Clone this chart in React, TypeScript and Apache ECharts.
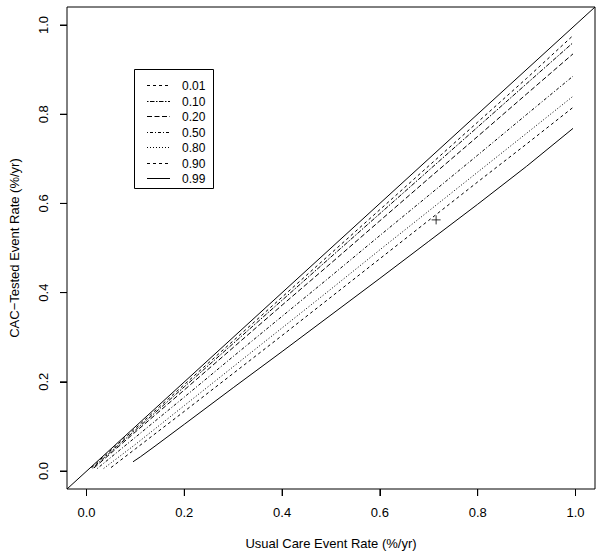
import React, { useEffect, useRef } from "react";
import * as echarts from "echarts";

// Quantile labels (legend)
const quantiles = ["0.01", "0.10", "0.20", "0.50", "0.80", "0.90", "0.99"];

// Curves: x = usual care event rate, y = CAC-tested event rate
const xQ01 = [0.01, 0.1, 0.2, 0.3, 0.4, 0.5, 0.6, 0.7, 0.8, 0.9, 0.995];
const yQ01 = [0.008, 0.096, 0.194, 0.292, 0.39, 0.488, 0.586, 0.684, 0.782, 0.88, 0.976];

const xQ10 = [0.012, 0.1, 0.2, 0.3, 0.4, 0.5, 0.6, 0.7, 0.8, 0.9, 0.995];
const yQ10 = [0.007, 0.092, 0.189, 0.286, 0.383, 0.48, 0.577, 0.674, 0.771, 0.868, 0.96];

const xQ20 = [0.015, 0.1, 0.2, 0.3, 0.4, 0.5, 0.6, 0.7, 0.8, 0.9, 0.995];
const yQ20 = [0.007, 0.088, 0.182, 0.277, 0.372, 0.466, 0.561, 0.656, 0.75, 0.845, 0.935];

const xQ50 = [0.022, 0.1, 0.2, 0.3, 0.4, 0.5, 0.6, 0.7, 0.8, 0.9, 0.995];
const yQ50 = [0.006, 0.076, 0.166, 0.257, 0.347, 0.437, 0.528, 0.618, 0.708, 0.799, 0.885];

const xQ80 = [0.035, 0.1, 0.2, 0.3, 0.4, 0.5, 0.6, 0.7, 0.8, 0.9, 0.995];
const yQ80 = [0.006, 0.06, 0.147, 0.234, 0.321, 0.408, 0.496, 0.583, 0.67, 0.757, 0.84];

const xQ90 = [0.05, 0.1, 0.2, 0.3, 0.4, 0.5, 0.6, 0.7, 0.8, 0.9, 0.995];
const yQ90 = [0.008, 0.05, 0.134, 0.219, 0.304, 0.39, 0.476, 0.562, 0.648, 0.733, 0.815];

const xQ99 = [0.095, 0.11, 0.14, 0.2, 0.3, 0.4, 0.5, 0.6, 0.7, 0.8, 0.9, 0.995];
const yQ99 = [0.021, 0.032, 0.056, 0.105, 0.187, 0.268, 0.35, 0.432, 0.515, 0.598, 0.683, 0.768];

// Identity reference line ends (spans the padded plot region)
const diagonal = [-0.04, 1.04];

// Marked point
const markX = [0.715];
const markY = [0.563];

// Axis tick values
const tickValues = [0, 0.2, 0.4, 0.6, 0.8, 1.0];

const curvesX = [xQ01, xQ10, xQ20, xQ50, xQ80, xQ90, xQ99];
const curvesY = [yQ01, yQ10, yQ20, yQ50, yQ80, yQ90, yQ99];

const dashes: (number[] | "solid")[] = [
  [3, 3],
  [1.5, 1.5, 4.5, 1.5],
  [5, 2.5],
  [1, 2, 3, 2],
  [1, 2],
  [3, 3],
  "solid",
];

const FONT = "'Liberation Sans', Arial, Helvetica, sans-serif";

export default function App() {
  const ref = useRef<HTMLDivElement>(null);
  useEffect(() => {
    document.body.style.margin = "0";
    if (!ref.current) return;
    const chart = echarts.init(ref.current, undefined, { renderer: "svg" });

    const series: any[] = curvesX.map((xs, i) => ({
      name: quantiles[i],
      type: "line",
      xAxisIndex: 0,
      yAxisIndex: 0,
      data: xs.map((x, j) => [x, curvesY[i][j]]),
      showSymbol: false,
      symbol: "none",
      lineStyle: { color: "#000", width: 1, type: dashes[i] },
      silent: true,
    }));
    series.push({
      name: "identity",
      type: "line",
      xAxisIndex: 0,
      yAxisIndex: 0,
      data: diagonal.map((v) => [v, v]),
      showSymbol: false,
      symbol: "none",
      lineStyle: { color: "#000", width: 1, type: "solid" },
      silent: true,
    });
    series.push({
      name: "mark",
      type: "scatter",
      xAxisIndex: 0,
      yAxisIndex: 0,
      data: markX.map((x, i) => [x, markY[i]]),
      symbol: "path://M0,5L10,5M5,0L5,10",
      symbolSize: 9,
      itemStyle: { color: "none", borderColor: "#000", borderWidth: 1 },
      silent: true,
    });

    // Tick marks, placed through the tick-strip axes' scales
    const xTickData: any[] = [];
    tickValues.forEach((v) => {
      xTickData.push([v, 0], [v, 1], null);
    });
    const yTickData: any[] = [];
    tickValues.forEach((v) => {
      yTickData.push([0, v], [1, v], null);
    });
    series.push({
      name: "xticks",
      type: "line",
      xAxisIndex: 1,
      yAxisIndex: 1,
      data: xTickData,
      connectNulls: false,
      showSymbol: false,
      symbol: "none",
      clip: false,
      lineStyle: { color: "#000", width: 1 },
      silent: true,
    });
    series.push({
      name: "yticks",
      type: "line",
      xAxisIndex: 2,
      yAxisIndex: 2,
      data: yTickData,
      connectNulls: false,
      showSymbol: false,
      symbol: "none",
      clip: false,
      lineStyle: { color: "#000", width: 1 },
      silent: true,
    });

    const legendTop = 85;
    const legendStep = 15.5;
    const graphics: any[] = [
      {
        type: "rect",
        shape: { x: 134.5, y: 69.5, width: 79, height: 119 },
        style: { fill: "#fff", stroke: "#000", lineWidth: 1 },
        z: 100,
      },
    ];
    quantiles.forEach((q, i) => {
      const y = Math.round(legendTop + i * legendStep) + 0.5;
      const d = dashes[i];
      graphics.push({
        type: "line",
        shape: { x1: 147, y1: y, x2: 170, y2: y },
        style: {
          stroke: "#000",
          lineWidth: 1,
          lineDash: d === "solid" ? null : d,
        },
        z: 101,
      });
      graphics.push({
        type: "text",
        x: 182,
        y: y,
        style: {
          text: q,
          fill: "#000",
          font: `12px ${FONT}`,
          verticalAlign: "middle",
        },
        z: 101,
      });
    });

    const hiddenAxis = (gridIndex: number, min: number, max: number) => ({
      type: "value",
      gridIndex,
      min,
      max,
      show: false,
      splitLine: { show: false },
    });

    const tickAxis = (name: string, isY: boolean, gridIndex: number) => ({
      type: "value",
      gridIndex,
      min: 0,
      max: 1,
      interval: 0.2,
      position: isY ? "left" : "bottom",
      name,
      nameLocation: "middle",
      nameGap: isY ? 39 : 41,
      nameRotate: isY ? 90 : 0,
      nameTextStyle: { fontSize: 13, color: "#000", fontFamily: FONT },
      axisLine: { show: false, onZero: false },
      axisTick: { show: false },
      splitLine: { show: true, lineStyle: { color: "#000", width: 1, type: "solid" } },
      axisLabel: {
        formatter: (v: number) => v.toFixed(1),
        fontSize: 13,
        color: "#000",
        rotate: isY ? 90 : 0,
        margin: 10,
        fontFamily: FONT,
        showMinLabel: true,
        showMaxLabel: true,
      },
    });

    chart.setOption({
      animation: false,
      backgroundColor: "#fff",
      textStyle: { fontFamily: FONT },
      grid: [
        {
          left: 67,
          right: 8,
          top: 7,
          bottom: 70,
          show: true,
          borderColor: "#000",
          borderWidth: 1,
          backgroundColor: "transparent",
        },
        { left: 86.5, right: 27.5, top: 489, height: 7, show: false },
        { left: 60, width: 7, top: 25, bottom: 88, show: false },
      ],
      xAxis: [
        hiddenAxis(0, -0.04, 1.04),
        tickAxis("Usual Care Event Rate (%/yr)", false, 1),
        hiddenAxis(2, 0, 1),
      ],
      yAxis: [
        hiddenAxis(0, -0.04, 1.04),
        hiddenAxis(1, 0, 1),
        tickAxis("CAC\u2212Tested Event Rate (%/yr)", true, 2),
      ],
      series,
      graphic: graphics,
    });
    return () => chart.dispose();
  }, []);
  return <div ref={ref} style={{ width: 603, height: 559 }} />;
}
